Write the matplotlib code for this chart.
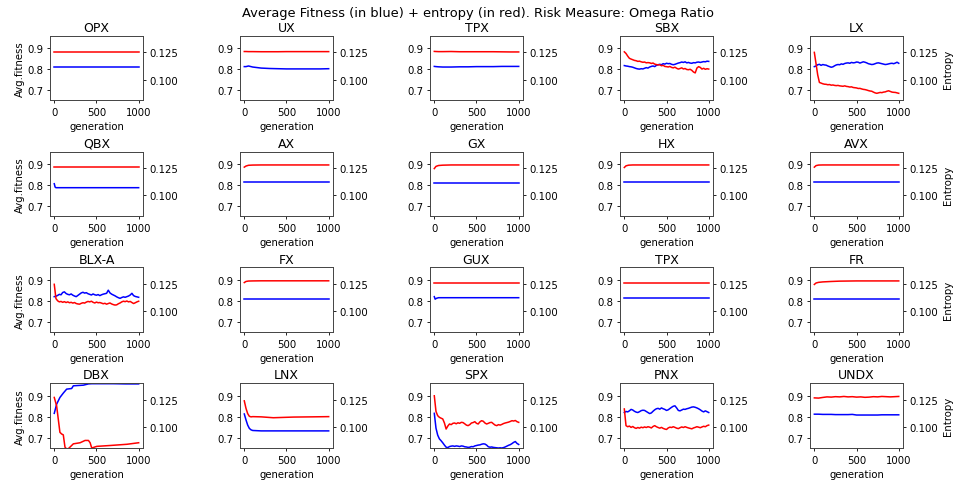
import matplotlib
matplotlib.use("Agg")
import matplotlib.pyplot as plt

# ---------------- data ----------------
TITLES = [["OPX", "UX", "TPX", "SBX", "LX"],
          ["QBX", "AX", "GX", "HX", "AVX"],
          ["BLX-A", "FX", "GUX", "TPX", "FR"],
          ["DBX", "LNX", "SPX", "PNX", "UNDX"]]

GEN_F = list(range(0, 1001, 20))          # fine generation grid (51 points)
GEN_C = [0, 20, 50, 100, 200, 300, 400, 500, 600, 700, 800, 900, 1000]
GEN_U = list(range(0, 1001, 50))

# Row 1
opx_fit = [0.811] * 13
opx_ent = [0.1255] * 13
ux_fit = [0.812, 0.812, 0.815, 0.810, 0.805, 0.803, 0.802, 0.801, 0.801, 0.801, 0.801, 0.801, 0.802]
ux_ent = [0.1256, 0.1256, 0.1255, 0.1255, 0.1254, 0.1254, 0.1254, 0.1255, 0.1255, 0.1255, 0.1255, 0.1255, 0.1255]
tpx_fit = [0.813, 0.812, 0.811, 0.810, 0.810, 0.811, 0.811, 0.812, 0.812, 0.812, 0.813, 0.813, 0.813]
tpx_ent = [0.1257, 0.1256, 0.1255, 0.1255, 0.1256, 0.1254, 0.1254, 0.1254, 0.1254, 0.1254, 0.1253, 0.1252, 0.1252]
sbx_fit = [0.817, 0.815, 0.814, 0.812, 0.811, 0.809, 0.806, 0.803, 0.801, 0.800,
           0.802, 0.801, 0.804, 0.807, 0.805, 0.810, 0.813, 0.815, 0.812, 0.818,
           0.821, 0.823, 0.821, 0.826, 0.824, 0.828, 0.826, 0.827, 0.823, 0.821,
           0.823, 0.826, 0.829, 0.831, 0.834, 0.832, 0.835, 0.830, 0.832, 0.829,
           0.828, 0.831, 0.830, 0.833, 0.834, 0.832, 0.834, 0.836, 0.835, 0.838, 0.837]
sbx_ent = [0.1253, 0.1238, 0.1214, 0.1194, 0.1187, 0.1181, 0.1175, 0.1172, 0.1166, 0.1168,
           0.1162, 0.1158, 0.1160, 0.1153, 0.1155, 0.1153, 0.1147, 0.1151, 0.1141, 0.1137,
           0.1134, 0.1135, 0.1126, 0.1130, 0.1120, 0.1118, 0.1115, 0.1120, 0.1111, 0.1107,
           0.1113, 0.1103, 0.1096, 0.1101, 0.1107, 0.1097, 0.1101, 0.1092, 0.1090, 0.1094,
           0.1084, 0.1069, 0.1061, 0.1105, 0.1118, 0.1111, 0.1096, 0.1103, 0.1094, 0.1099, 0.1096]
lx_fit = [0.812, 0.815, 0.821, 0.823, 0.818, 0.822, 0.820, 0.819, 0.815, 0.812,
          0.809, 0.811, 0.816, 0.820, 0.822, 0.821, 0.825, 0.823, 0.827, 0.829,
          0.830, 0.828, 0.832, 0.830, 0.831, 0.834, 0.833, 0.829, 0.832, 0.835,
          0.833, 0.830, 0.826, 0.824, 0.822, 0.823, 0.826, 0.829, 0.830, 0.828,
          0.826, 0.824, 0.822, 0.823, 0.825, 0.827, 0.828, 0.826, 0.829, 0.833, 0.828]
lx_ent = [0.1248, 0.1145, 0.1042, 0.0974, 0.0968, 0.0962, 0.0958, 0.0957, 0.0953, 0.0955,
          0.0949, 0.0951, 0.0947, 0.0945, 0.0947, 0.0943, 0.0941, 0.0939, 0.0943, 0.0938,
          0.0936, 0.0932, 0.0934, 0.0928, 0.0926, 0.0924, 0.0919, 0.0920, 0.0915, 0.0911,
          0.0909, 0.0905, 0.0900, 0.0896, 0.0894, 0.0886, 0.0879, 0.0875, 0.0879, 0.0883,
          0.0881, 0.0886, 0.0888, 0.0894, 0.0898, 0.0892, 0.0886, 0.0884, 0.0883, 0.0879, 0.0875]

# Row 2
qbx_gen = [0, 10, 20, 1000]
qbx_fit = [0.806, 0.790, 0.787, 0.787]
qbx_ent = [0.1255, 0.1255, 0.1255, 0.1255]
ax_fit = [0.813] * 13
ax_ent = [0.1258, 0.1268, 0.1275, 0.1277, 0.1278, 0.1278, 0.1278, 0.1278, 0.1278, 0.1278, 0.1278, 0.1278, 0.1278]
gx_fit = [0.811] * 13
gx_ent = [0.1245, 0.1265, 0.1273, 0.1276, 0.1278, 0.1278, 0.1278, 0.1278, 0.1278, 0.1278, 0.1278, 0.1278, 0.1278]
hx_fit = [0.812] * 13
hx_ent = [0.1255, 0.1270, 0.1276, 0.1278, 0.1278, 0.1278, 0.1278, 0.1278, 0.1278, 0.1278, 0.1278, 0.1278, 0.1278]
avx_fit = [0.812] * 13
avx_ent = [0.1258, 0.1272, 0.1277, 0.1278, 0.1278, 0.1278, 0.1278, 0.1278, 0.1278, 0.1278, 0.1278, 0.1278, 0.1278]

# Row 3
blx_fit = [0.820, 0.822, 0.826, 0.831, 0.829, 0.840, 0.843, 0.835, 0.831, 0.829,
           0.833, 0.827, 0.823, 0.820, 0.826, 0.832, 0.838, 0.841, 0.837, 0.839,
           0.834, 0.831, 0.828, 0.833, 0.829, 0.827, 0.830, 0.825, 0.829, 0.832,
           0.834, 0.836, 0.851, 0.838, 0.832, 0.828, 0.824, 0.819, 0.815, 0.812,
           0.816, 0.819, 0.817, 0.820, 0.823, 0.828, 0.836, 0.825, 0.821, 0.819, 0.817]
blx_ent = [0.1246, 0.1116, 0.1096, 0.1086, 0.1090, 0.1082, 0.1088, 0.1080, 0.1086, 0.1078,
           0.1082, 0.1075, 0.1080, 0.1071, 0.1067, 0.1065, 0.1073, 0.1078, 0.1075, 0.1084,
           0.1090, 0.1086, 0.1092, 0.1082, 0.1076, 0.1084, 0.1078, 0.1080, 0.1075, 0.1069,
           0.1073, 0.1065, 0.1071, 0.1076, 0.1067, 0.1061, 0.1057, 0.1059, 0.1069, 0.1076,
           0.1086, 0.1092, 0.1088, 0.1094, 0.1086, 0.1090, 0.1080, 0.1071, 0.1078, 0.1086, 0.1092]
fx_fit = [0.811] * 13
fx_ent = [0.1262, 0.1272, 0.1276, 0.1277, 0.1278, 0.1278, 0.1278, 0.1278, 0.1278, 0.1278, 0.1278, 0.1278, 0.1278]
gux_gen = [0, 10, 25, 50, 100, 1000]
gux_fit = [0.820, 0.808, 0.812, 0.815, 0.815, 0.815]
gux_ent = [0.1254, 0.1254, 0.1254, 0.1254, 0.1254, 0.1254]
tpx2_fit = [0.812] * 13
tpx2_ent = [0.1254] * 13
fr_fit = [0.811] * 13
fr_ent = [0.1245, 0.1258, 0.1264, 0.1268, 0.1272, 0.1275, 0.1276, 0.1277, 0.1277, 0.1277, 0.1277, 0.1277, 0.1277]

# Row 4
dbx_fit_gen = [0, 28, 67, 107, 147, 206, 226, 345, 405, 444, 544, 700, 850, 1000]
dbx_fit = [0.816, 0.860, 0.892, 0.913, 0.932, 0.935, 0.948, 0.951, 0.957, 0.958, 0.958, 0.958, 0.957, 0.957]
dbx_ent_gen = [0, 28, 67, 87, 107, 127, 147, 170, 206, 226, 306, 365, 405, 425, 444, 504, 663, 861, 1000]
dbx_ent = [0.1271, 0.1194, 0.0953, 0.0938, 0.0930, 0.0818, 0.0801, 0.0806, 0.0833, 0.0848,
           0.0858, 0.0879, 0.0879, 0.0858, 0.0810, 0.0825, 0.0833, 0.0844, 0.0858]
lnx_gen = [0, 20, 40, 60, 80, 100, 150, 200, 344, 581, 800, 1000]
lnx_fit = [0.813, 0.785, 0.760, 0.744, 0.737, 0.734, 0.733, 0.732, 0.732, 0.732, 0.732, 0.732]
lnx_ent = [0.1240, 0.1172, 0.1124, 0.1099, 0.1094, 0.1096, 0.1095, 0.1094, 0.1086, 0.1092, 0.1094, 0.1096]
spx_fit = [0.816, 0.745, 0.712, 0.694, 0.685, 0.675, 0.664, 0.654, 0.652, 0.657,
           0.659, 0.660, 0.658, 0.660, 0.659, 0.657, 0.660, 0.659, 0.656, 0.655,
           0.653, 0.654, 0.657, 0.656, 0.660, 0.662, 0.664, 0.665, 0.668, 0.670,
           0.669, 0.664, 0.656, 0.654, 0.655, 0.653, 0.652, 0.651, 0.650, 0.651,
           0.650, 0.652, 0.655, 0.659, 0.663, 0.666, 0.671, 0.677, 0.681, 0.672, 0.667]
spx_ent = [0.1286, 0.1143, 0.1105, 0.1090, 0.1082, 0.1075, 0.1038, 0.0983, 0.1010, 0.1029,
           0.1023, 0.1035, 0.1038, 0.1031, 0.1040, 0.1035, 0.1044, 0.1042, 0.1031, 0.1019,
           0.1014, 0.1023, 0.1038, 0.1042, 0.1050, 0.1035, 0.1029, 0.1048, 0.1059, 0.1054,
           0.1038, 0.1029, 0.1035, 0.1042, 0.1044, 0.1031, 0.1019, 0.1014, 0.1023, 0.1019,
           0.1025, 0.1033, 0.1038, 0.1042, 0.1046, 0.1052, 0.1059, 0.1056, 0.1061, 0.1050, 0.1044]
pnx_fit = [0.820, 0.825, 0.823, 0.828, 0.835, 0.832, 0.826, 0.822, 0.820, 0.824,
           0.829, 0.831, 0.830, 0.825, 0.820, 0.815, 0.818, 0.826, 0.833, 0.838,
           0.840, 0.836, 0.842, 0.838, 0.835, 0.830, 0.833, 0.839, 0.845, 0.850,
           0.852, 0.842, 0.830, 0.828, 0.832, 0.836, 0.835, 0.838, 0.840, 0.843,
           0.846, 0.847, 0.845, 0.842, 0.838, 0.833, 0.827, 0.823, 0.828, 0.824, 0.820]
pnx_ent = [0.1166, 0.1014, 0.1004, 0.1010, 0.0998, 0.1006, 0.0995, 0.0989, 0.0997, 0.0991,
           0.1000, 0.0995, 0.1002, 0.0997, 0.1004, 0.1000, 0.0993, 0.1006, 0.1014, 0.1004,
           0.0997, 0.0991, 0.0998, 0.0989, 0.0983, 0.0979, 0.0993, 0.1000, 0.0997, 0.1004,
           0.0998, 0.0991, 0.0987, 0.0995, 0.1002, 0.0997, 0.1004, 0.0998, 0.0993, 0.0989,
           0.0985, 0.0993, 0.0998, 0.1004, 0.1000, 0.0995, 0.1002, 0.1008, 0.1004, 0.1014, 0.1019]
undx_fit = [0.812, 0.812, 0.811, 0.811, 0.811, 0.810, 0.810, 0.810, 0.810, 0.811, 0.808,
            0.808, 0.808, 0.808, 0.808, 0.808, 0.809, 0.809, 0.809, 0.809, 0.809]
undx_ent = [0.1267, 0.1265, 0.1271, 0.1276, 0.1274, 0.1278, 0.1276, 0.1280, 0.1276, 0.1278, 0.1274,
            0.1276, 0.1272, 0.1274, 0.1278, 0.1276, 0.1280, 0.1278, 0.1276, 0.1278, 0.1280]

PANELS = [
    [(GEN_C, opx_fit, GEN_C, opx_ent), (GEN_C, ux_fit, GEN_C, ux_ent),
     (GEN_C, tpx_fit, GEN_C, tpx_ent), (GEN_F, sbx_fit, GEN_F, sbx_ent),
     (GEN_F, lx_fit, GEN_F, lx_ent)],
    [(qbx_gen, qbx_fit, qbx_gen, qbx_ent), (GEN_C, ax_fit, GEN_C, ax_ent),
     (GEN_C, gx_fit, GEN_C, gx_ent), (GEN_C, hx_fit, GEN_C, hx_ent),
     (GEN_C, avx_fit, GEN_C, avx_ent)],
    [(GEN_F, blx_fit, GEN_F, blx_ent), (GEN_C, fx_fit, GEN_C, fx_ent),
     (gux_gen, gux_fit, gux_gen, gux_ent), (GEN_C, tpx2_fit, GEN_C, tpx2_ent),
     (GEN_C, fr_fit, GEN_C, fr_ent)],
    [(dbx_fit_gen, dbx_fit, dbx_ent_gen, dbx_ent), (lnx_gen, lnx_fit, lnx_gen, lnx_ent),
     (GEN_F, spx_fit, GEN_F, spx_ent), (GEN_F, pnx_fit, GEN_F, pnx_ent),
     (GEN_U, undx_fit, GEN_U, undx_ent)],
]

FIT_TICKS = [0.7, 0.8, 0.9]
ENT_TICKS = [0.100, 0.125]
X_TICKS = [0, 500, 1000]

# ---------------- plot ----------------
FS_TITLE = 9.0
FS_SUP = 9.4
FS = 7.3
plt.rcParams.update({
    "font.family": "DejaVu Sans",
    "axes.linewidth": 0.6,
    "xtick.major.width": 0.6, "ytick.major.width": 0.6,
    "xtick.major.size": 2.4, "ytick.major.size": 2.4,
    "xtick.major.pad": 2.4, "ytick.major.pad": 2.4,
    "xtick.labelsize": FS, "ytick.labelsize": FS,
})

fig, axes = plt.subplots(4, 5, figsize=(9.55, 4.85), dpi=100)
fig.subplots_adjust(left=0.0524, right=0.9455, top=0.9243, bottom=0.0742,
                    wspace=1.047, hspace=0.79)

for r in range(4):
    for c in range(5):
        ax = axes[r][c]
        gf, fit, ge, ent = PANELS[r][c]
        ax.plot(gf, fit, color="blue", lw=1.1)
        ax.set_ylim(0.65, 0.96)
        ax.set_yticks(FIT_TICKS)
        ax.set_xticks(X_TICKS)
        ax.set_xlim(-50, 1050)
        ax.set_title(TITLES[r][c], fontsize=FS_TITLE, pad=3.5)
        ax.set_xlabel("generation", fontsize=FS, labelpad=2.8)
        ax2 = ax.twinx()
        ax2.plot(ge, ent, color="red", lw=1.1)
        ax2.set_ylim(0.081, 0.140)
        ax2.set_yticks(ENT_TICKS)
        ax2.set_yticklabels(["0.100", "0.125"])
        if c == 0:
            ax.set_ylabel("Avg.fitness", fontsize=FS, labelpad=2)
        if c == 4:
            ax2.set_ylabel("Entropy", fontsize=FS, labelpad=3)
        for sp in list(ax.spines.values()) + list(ax2.spines.values()):
            sp.set_color("#444444")

fig.suptitle("Average Fitness (in blue) + entropy (in red). Risk Measure: Omega Ratio",
             fontsize=FS_SUP, y=0.985)
fig.savefig("out.png", dpi=100)
